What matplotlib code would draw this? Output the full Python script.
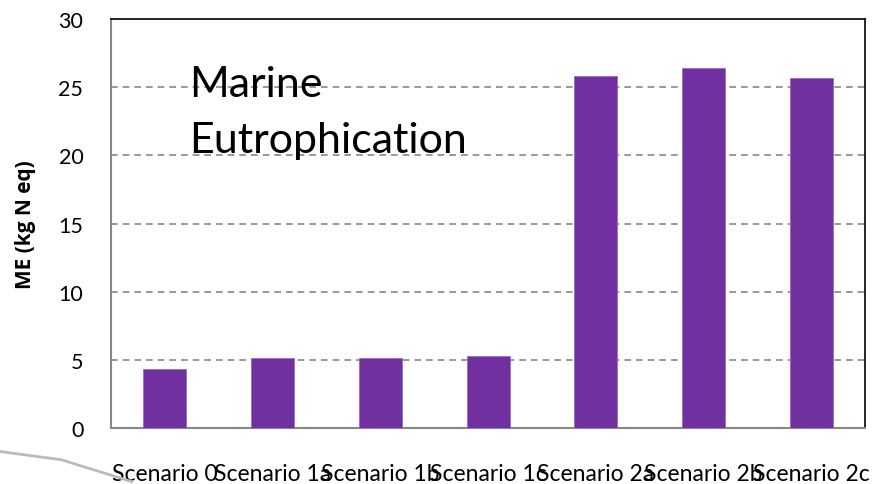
import matplotlib
matplotlib.use("Agg")
import matplotlib.pyplot as plt
from matplotlib.lines import Line2D

categories = ["Scenario 0", "Scenario 1a", "Scenario 1b", "Scenario 1c",
              "Scenario 2a", "Scenario 2b", "Scenario 2c"]
values = [4.3, 5.15, 5.1, 5.28, 25.8, 26.4, 25.65]
yticks = [0, 5, 10, 15, 20, 25, 30]

plt.rcParams['font.family'] = ['Lato', 'DejaVu Sans']

fig = plt.figure(figsize=(8.77, 4.85), dpi=100)
ax = fig.add_axes([0.1266, 0.1155, 0.86, 0.843])

x = list(range(len(categories)))
ax.bar(x, values, width=0.4, color="#7030A0", edgecolor="#9B6BC4", linewidth=0.6, zorder=3)
ax.set_xlim(-0.5, len(categories) - 0.5)
ax.set_ylim(0, 30)
ax.set_yticks(yticks)
ax.set_yticklabels([str(t) for t in yticks], fontsize=15.5)
ax.set_xticks(x)
ax.set_xticklabels(categories, fontsize=16.5)
ax.tick_params(axis='both', length=0)
ax.tick_params(axis='x', pad=25)
ax.tick_params(axis='y', pad=20)

for t in yticks[1:-1]:
    ax.axhline(t, color="#888888", linestyle=(0, (4, 3)), linewidth=1.2, zorder=1)

for s in ['top', 'right']:
    ax.spines[s].set_color('black')
    ax.spines[s].set_linewidth(1.2)
for s in ['left', 'bottom']:
    ax.spines[s].set_color('#888888')
    ax.spines[s].set_linewidth(1.5)

ax.set_ylabel("ME (kg N eq)", fontsize=15, fontweight='bold', family=['Open Sans', 'DejaVu Sans'])
ax.yaxis.set_label_coords(-0.1, 0.5)

ax.text(0.103, 0.888, "Marine\nEutrophication", transform=ax.transAxes,
        fontsize=31, va='top', ha='left', linespacing=1.57, zorder=4)

fig.add_artist(Line2D([0.0, 0.07, 0.15], [0.067, 0.05, 0.005], transform=fig.transFigure,
                      color="#bbbbbb", linewidth=2))

fig.savefig("out.png", dpi=100)
